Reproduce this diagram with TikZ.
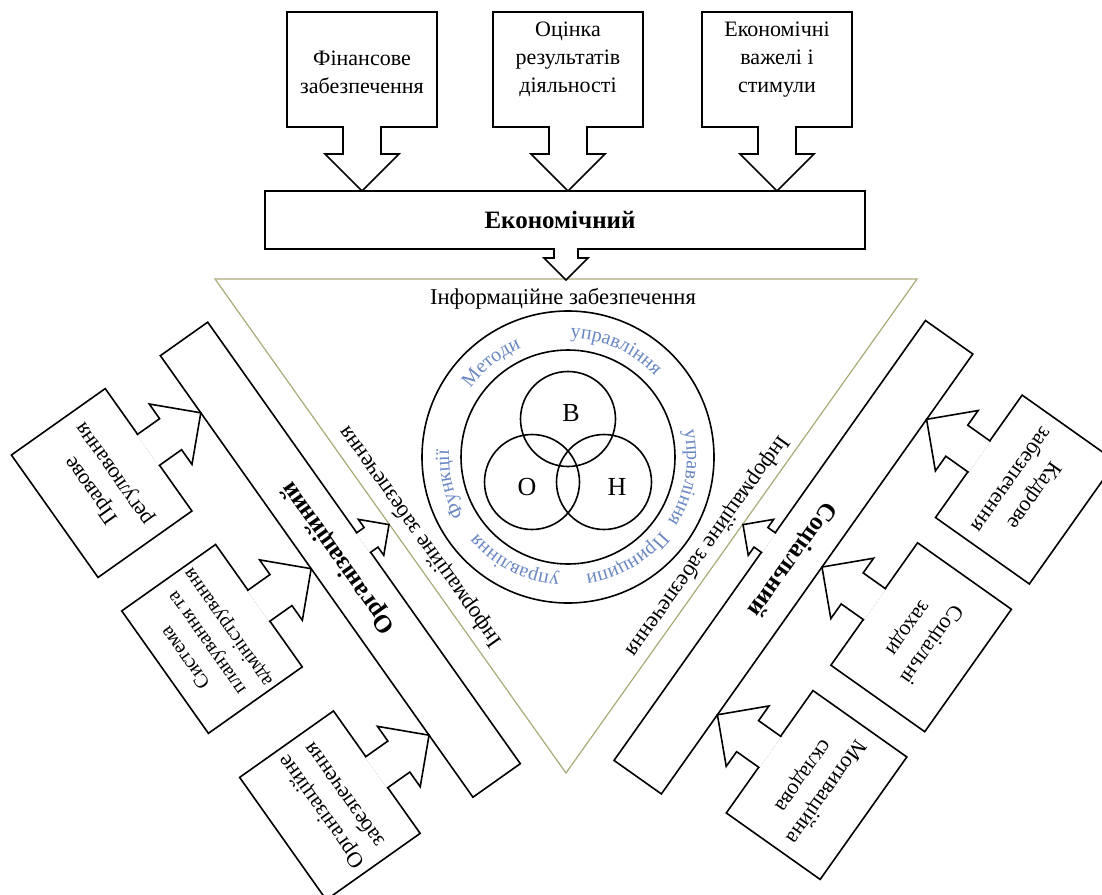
\documentclass[tikz,border=0pt]{standalone}
\usepackage{fontspec}
\setmainfont{Liberation Serif}
\usetikzlibrary{decorations.text}
\definecolor{triline}{RGB}{170,170,120}
\definecolor{ringblue}{RGB}{105,135,195}
\newcommand\ringfont{\fontsize{10}{12}\selectfont\color{ringblue}}
\newcommand\blkarrow[1]{%
  \draw[fill=white] (#1-19,154) -- (#1-19,126) -- (#1-37,126) -- (#1,89) -- (#1+37,126) -- (#1+19,126) -- (#1+19,154);}
\newcommand\smlarrow{%
  \draw[fill=white] (-12,32) -- (-12,22) -- (-22,22) -- (0,0) -- (22,22) -- (12,22) -- (12,32);}
\newcommand\ringword[2]{%
  \pgfmathsetmacro\ra{#1+40}\pgfmathsetmacro\rb{#1-40}%
  \path[shift={(568,-457)}, decorate, decoration={text along path, text align=center, text={|\ringfont|#2}}] (\ra:119) arc[start angle=\ra, end angle=\rb, radius=119];}
\begin{document}
\begin{tikzpicture}[x=0.5pt,y=0.5pt, line width=0.8pt,
  box/.style={draw, fill=white, minimum width=75pt, minimum height=57.5pt, inner sep=0pt},
  bar/.style={draw, fill=white, minimum height=29pt, inner sep=0pt},
  boxtext/.style={align=center, font=\fontsize{11}{14}\selectfont, inner sep=0pt},
  bartext/.style={font=\fontsize{12.5}{14}\selectfont\bfseries},
  edgetext/.style={font=\fontsize{11.3}{13}\selectfont},
  venn/.style={font=\fontsize{13}{15}\selectfont},
  ring/.style={draw, circle, inner sep=0pt}]
\useasboundingbox (0,0) rectangle (1102,-894);
% triangle
\draw[triline, line width=0.6pt] (215,-279) -- (917,-279) -- (566,-773) -- cycle;
% circles
\node[ring, minimum size=146pt] (outer) at (568,-457) {};
\node[ring, minimum size=107pt] (middle) at (568,-457) {};
\node[ring, minimum size=47.5pt] (cB) at (568,-419) {};
\node[ring, minimum size=47.5pt] (cO) at (532,-482) {};
\node[ring, minimum size=47.5pt] (cH) at (604,-482) {};
\node[venn] (lB) at (571,-413) {В};
\node[venn] (lO) at (527,-487) {О};
\node[venn] (lH) at (617,-487) {Н};
\ringword{129}{Методи}
\ringword{66}{управління}
\ringword{350}{управління}
\ringword{300}{Принципи}
\ringword{243}{управління}
\ringword{193}{Функції}
% top unit
\begin{scope}[shift={(566,-280)}]
  \node[bar, minimum width=300pt] (ek) at (-1,60) {};
  \node[bartext] (ekt) at (-6,60) {Економічний};
  \node[box] (t1) at (-204,210.5) {};
  \node[boxtext] (t1t) at (-204,208) {Фінансове\\забезпечення};
  \node[box] (t2) at (2,210.5) {};
  \node[boxtext] (t2t) at (2,220.5) {Оцінка\\результатів\\діяльності};
  \node[box] (t3) at (211,210.5) {};
  \node[boxtext] (t3t) at (211,220.5) {Економічні\\важелі і\\стимули};
  \blkarrow{-204}\blkarrow{2}\blkarrow{211}
  \smlarrow
  \node[edgetext] (tinfo) at (-3,-19) {Інформаційне забезпечення};
\end{scope}
% left unit
\begin{scope}[shift={(389,-524.6)}, rotate=125.3, transform shape]
  \node[bar, minimum width=270.5pt] (org) at (-0.5,60) {};
  \node[bartext] (orgt) at (2,60) {Організаційний};
  \node[box] (l1) at (200,210.5) {};
  \node[boxtext] (l1t) at (200,208) {Правове\\регулювання};
  \node[box] (l2) at (9,210.5) {};
  \node[boxtext, font=\fontsize{10}{13}\selectfont] (l2t) at (9,216) {Система\\планування та\\адміністрування};
  \node[box] (l3) at (-195,210.5) {};
  \node[boxtext] (l3t) at (-195,208) {Організаційне\\забезпечення};
  \blkarrow{200}\blkarrow{9}\blkarrow{-195}
  \smlarrow
  \node[edgetext] (linfo) at (-28,-19) {Інформаційне забезпечення};
\end{scope}
% right unit
\begin{scope}[shift={(743,-524.6)}, rotate=-125.3, transform shape]
  \node[bar, minimum width=269.5pt] (soc) at (-2.5,60) {};
  \node[bartext] (soct) at (0,60) {Соціальний};
  \node[box] (r1) at (-192,210.5) {};
  \node[boxtext] (r1t) at (-192,208) {Кадрове\\забезпечення};
  \node[box] (r2) at (-11,210.5) {};
  \node[boxtext] (r2t) at (-11,208) {Соціальні\\заходи};
  \node[box] (r3) at (170,210.5) {};
  \node[boxtext] (r3t) at (170,208) {Мотиваційна\\складова};
  \blkarrow{-192}\blkarrow{-11}\blkarrow{170}
  \smlarrow
  \node[edgetext] (rinfo) at (38,-17) {Інформаційне забезпечення};
\end{scope}
\end{tikzpicture}
\end{document}
